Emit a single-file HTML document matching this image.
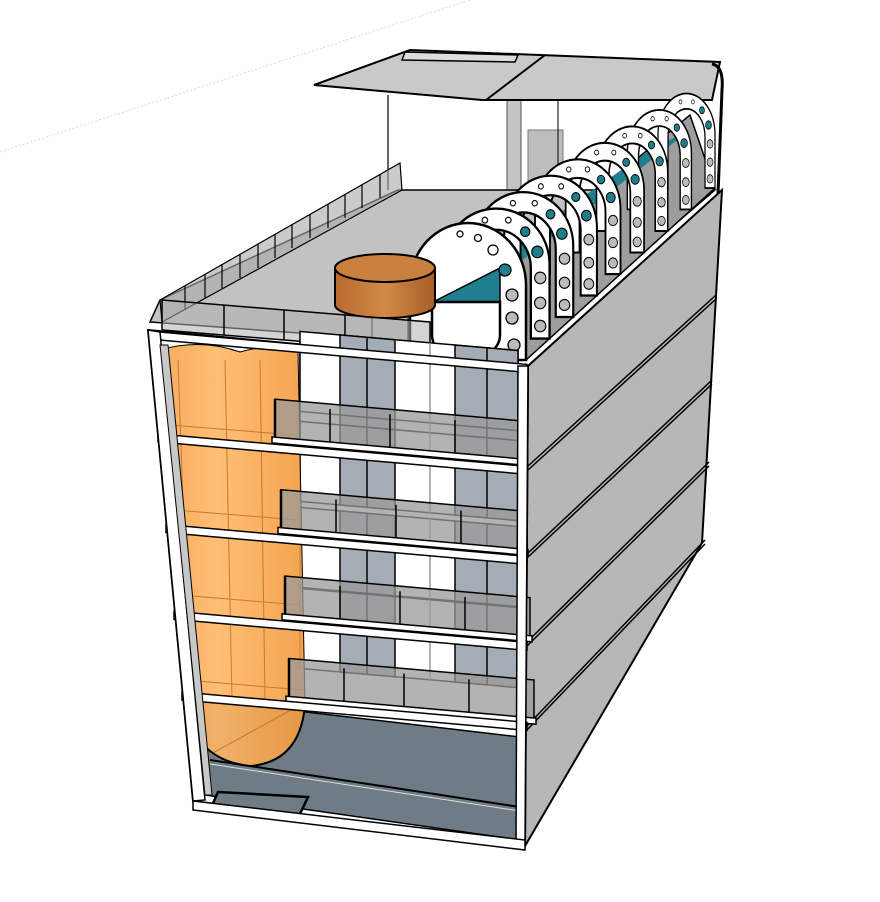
<!DOCTYPE html>
<html><head><meta charset="utf-8"><style>html,body{margin:0;padding:0;background:#fff}svg{display:block}</style></head>
<body>
<svg width="880" height="902" viewBox="0 0 880 902" xmlns="http://www.w3.org/2000/svg">
<defs>
 <linearGradient id="org" x1="0" x2="1" y1="0" y2="0">
  <stop offset="0" stop-color="#f6a24a"/><stop offset="0.4" stop-color="#ffb766"/><stop offset="1" stop-color="#f29a3c"/>
 </linearGradient>
 <linearGradient id="wood" x1="0" x2="1">
  <stop offset="0" stop-color="#b86a2c"/><stop offset="0.5" stop-color="#d08a48"/><stop offset="1" stop-color="#a85e26"/>
 </linearGradient>
 <g id="hoop">
  <path d="M0,135 L0,58 A57,58 0 0 1 114,58 L114,135 L94,135 L94,62 A37,40 0 0 0 20,62 L20,135 Z" fill="#fff" stroke="#000" stroke-width="2.5"/>
  <circle cx="22" cy="30" r="3" fill="#fff" stroke="#000" stroke-width="1.2"/>
  <circle cx="45" cy="12" r="3" fill="#fff" stroke="#000" stroke-width="1.2"/>
  <circle cx="70" cy="12" r="3" fill="#fff" stroke="#000" stroke-width="1.2"/>
  <circle cx="88" cy="24" r="5" fill="#1d7d8a" stroke="#000" stroke-width="1.2"/>
  <circle cx="101" cy="45" r="6" fill="#1d7d8a" stroke="#000" stroke-width="1.2"/>
  <circle cx="104" cy="72" r="6" fill="#bbb" stroke="#000" stroke-width="1.2"/>
  <circle cx="104" cy="98" r="6" fill="#bbb" stroke="#000" stroke-width="1.2"/>
  <circle cx="104" cy="122" r="6" fill="#bbb" stroke="#000" stroke-width="1.2"/>
 </g>
</defs>

<line x1="0" y1="152" x2="470" y2="0" stroke="#cfe0cf" stroke-width="1" stroke-dasharray="2,2"/>

<!-- canopy, back wall -->
<line x1="388" y1="95" x2="388" y2="190" stroke="#000" stroke-width="1.2"/>
<rect x="507" y="100" width="14" height="95" fill="#c4c4c4" stroke="#555" stroke-width="1"/>
<rect x="528" y="130" width="35" height="65" fill="#bdbdbd" stroke="#777" stroke-width="1"/>
<line x1="558" y1="100" x2="558" y2="195" stroke="#000" stroke-width="1"/>
<polygon points="314,85 410,50 720,62 712,100 482,100" fill="#c9c9c9" stroke="#000" stroke-width="2"/>
<line x1="545" y1="55" x2="486" y2="100" stroke="#000" stroke-width="2"/>
<polygon points="405,52 518,55 515,62 402,60" fill="#ddd" stroke="#000" stroke-width="1.5"/>
<path d="M712,64 Q724,66 722,90 L718,195" fill="none" stroke="#000" stroke-width="3"/>

<!-- right face -->
<polygon points="528,366 722,190 702,543 525,846" fill="#b7b7b7" stroke="#000" stroke-width="2"/>
<g stroke="#000" stroke-width="1.5" fill="none">
 <path d="M528,466 L716,295"/><path d="M528,470 L716,299"/>
 <path d="M527,554 L712,380"/><path d="M527,558 L712,384"/>
 <path d="M527,642 L709,462"/><path d="M527,646 L709,466"/>
 <path d="M526,727 L705,540"/><path d="M526,731 L705,544"/>
</g>

<!-- roof deck -->
<polygon points="160,300 398,190 715,190 528,350 150,322" fill="#c2c2c2" stroke="#000" stroke-width="1.5"/>
<polygon points="160,300 400,163 402,190 162,322" fill="#a9a9a9" fill-opacity="0.6" stroke="#000" stroke-width="1.2"/>
<g stroke="#000" stroke-width="1.2">
 <line x1="185" y1="286" x2="185" y2="310"/><line x1="205" y1="274" x2="205" y2="298"/><line x1="222" y1="264" x2="222" y2="288"/>
 <line x1="240" y1="254" x2="240" y2="278"/><line x1="258" y1="244" x2="258" y2="268"/><line x1="275" y1="234" x2="275" y2="258"/>
 <line x1="292" y1="224" x2="292" y2="248"/><line x1="310" y1="214" x2="310" y2="238"/><line x1="328" y1="204" x2="328" y2="228"/>
 <line x1="345" y1="194" x2="345" y2="218"/><line x1="362" y1="184" x2="362" y2="208"/><line x1="380" y1="174" x2="380" y2="198"/>
</g>

<!-- tunnel -->
<polygon points="430,300 520,255 690,115 715,188 526,360 430,360" fill="#9d9d9d" stroke="#000" stroke-width="1.5"/>
<polygon points="435,300 520,262 690,130 650,150" fill="#1f7f8e"/>
<use href="#hoop" transform="translate(658,93.5) scale(0.5,0.7)"/>
<use href="#hoop" transform="translate(627.3,109.9) scale(0.5625,0.7375)"/>
<use href="#hoop" transform="translate(596.5,126.4) scale(0.625,0.775)"/>
<use href="#hoop" transform="translate(565.7,142.8) scale(0.6875,0.8125)"/>
<use href="#hoop" transform="translate(535,159.25) scale(0.75,0.85)"/>
<use href="#hoop" transform="translate(504.3,175.7) scale(0.8125,0.8875)"/>
<use href="#hoop" transform="translate(473.5,192.1) scale(0.875,0.925)"/>
<use href="#hoop" transform="translate(442.7,208.6) scale(0.9375,0.9625)"/>
<!-- front hoop with cap -->
<path d="M410,360 L410,285 A58,62 0 0 1 526,285 L526,360 Z" fill="#fff" stroke="#000" stroke-width="2.5"/>
<polygon points="433,302 500,268 500,302" fill="#1f7f8e" stroke="#000" stroke-width="1.5"/>
<path d="M432,302 L500,302 L500,335 A34,25 0 0 1 432,335 Z" fill="#fff" stroke="#000" stroke-width="2.5"/>
<g fill="#bbb" stroke="#000" stroke-width="1.3">
 <circle cx="512" cy="295" r="6"/><circle cx="512" cy="318" r="6"/><circle cx="514" cy="345" r="6"/>
 <circle cx="505" cy="270" r="6" fill="#1f7f8e"/><circle cx="493" cy="250" r="5" fill="#fff"/><circle cx="478" cy="238" r="3.5" fill="#fff"/>
 <circle cx="460" cy="234" r="3" fill="#fff"/><circle cx="424" cy="350" r="5" fill="#fff"/>
</g>

<!-- wooden cylinder -->
<path d="M335,268 L335,305 A50,13 0 0 0 435,305 L435,268 Z" fill="url(#wood)" stroke="#000" stroke-width="2"/>
<ellipse cx="385" cy="268" rx="50" ry="14" fill="#c9803f" stroke="#000" stroke-width="2"/>
<line x1="372" y1="318" x2="372" y2="340" stroke="#000"/>
<line x1="408" y1="318" x2="408" y2="340" stroke="#000"/>

<!-- front roof glass rail -->
<polygon points="162,300 430,322 430,352 162,330" fill="#b0b0b0" fill-opacity="0.55" stroke="#000" stroke-width="1.5"/>
<g stroke="#000" stroke-width="1.5"><line x1="224" y1="305" x2="224" y2="335"/><line x1="284" y1="310" x2="284" y2="340"/><line x1="345" y1="315" x2="345" y2="345"/></g>

<!-- front face base -->
<polygon points="148,330 528,366 525,846 193,801" fill="#fff" stroke="#000" stroke-width="2"/>

<g transform="matrix(1,0.088,0,1,0,0)" stroke="#000" stroke-width="1.5">
 <g id="fl">
  <rect x="300" y="315" width="218" height="80" fill="#fff"/>
  <rect x="340" y="315" width="55" height="80" fill="#a4adb5"/>
  <rect x="455" y="315" width="63" height="80" fill="#a4adb5"/>
  <line x1="367" y1="315" x2="367" y2="395"/><line x1="430" y1="315" x2="430" y2="395" stroke="#999"/><line x1="487" y1="315" x2="487" y2="395"/>
 </g>
 <use href="#fl" transform="translate(0,-10)"/>
 <use href="#fl" transform="translate(0,80)"/>
 <use href="#fl" transform="translate(0,166)"/>
 <use href="#fl" transform="translate(0,247)"/>
</g>
<polygon points="203,700 520,737 520,840 205,795" fill="#6f7c85" stroke="#000" stroke-width="1.5"/>
<line x1="210" y1="760" x2="520" y2="807" stroke="#000" stroke-width="2"/>
<line x1="210" y1="764" x2="520" y2="811" stroke="#ddd" stroke-width="1"/>
<polygon points="218,792 308,797 298,818 210,810" fill="#6f7c85" stroke="#000" stroke-width="2.5"/>

<path d="M160,350 Q200,338 240,352 Q275,342 298,352 L305,705 Q300,762 250,766 Q195,760 185,705 Z" fill="url(#org)" fill-opacity="0.9" stroke="#000" stroke-width="1"/>
<g stroke="#c97a2a" stroke-width="1" fill="none">
 <line x1="178" y1="360" x2="190" y2="700"/><line x1="225" y1="360" x2="232" y2="700"/><line x1="260" y1="360" x2="265" y2="700"/>
 <path d="M170,425 L295,435"/><path d="M175,510 L298,520"/><path d="M180,595 L300,605"/><path d="M185,680 L303,690"/>
 <line x1="200" y1="760" x2="300" y2="705"/>
</g>
<path d="M185,705 Q195,760 250,766 Q300,762 305,705" fill="none" stroke="#000" stroke-width="2"/>

<g transform="matrix(1,0.088,0,1,0,0)" stroke="#000" stroke-width="1.5">
 <g id="bal">
  <polygon points="275,375 520,375 520,415 275,415" fill="#9a9a9a" fill-opacity="0.75"/>
  <line x1="275" y1="375" x2="275" y2="418" stroke-width="2.5"/>
  <line x1="330" y1="380" x2="330" y2="418"/><line x1="390" y1="380" x2="390" y2="418"/><line x1="455" y1="380" x2="455" y2="418"/>
  <rect x="272" y="413" width="250" height="6" fill="#fff"/>
 </g>
 <use href="#bal" transform="translate(6,90)"/>
 <use href="#bal" transform="translate(10,176)"/>
 <use href="#bal" transform="translate(14,258)"/>
</g>

<g transform="matrix(1,0.088,0,1,0,0)" fill="#fff" stroke="#000" stroke-width="1.5">
 <rect x="149" y="318" width="378" height="8"/>
 <rect x="158" y="420" width="369" height="8"/>
 <rect x="166" y="510" width="361" height="8"/>
 <rect x="174" y="596" width="353" height="8"/>
 <rect x="182" y="676" width="345" height="8"/>
</g>

<polygon points="148,330 160,332 205,800 193,801" fill="#fff" stroke="#000" stroke-width="1.5"/>
<polygon points="160,345 168,345 212,795 205,795" fill="#c8c8c8" stroke="#000" stroke-width="1"/>
<polygon points="518,366 528,366 525,846 516,845" fill="#fff" stroke="#000" stroke-width="1.5"/>
<polygon points="193,801 525,840 525,850 193,810" fill="#fff" stroke="#000" stroke-width="1.5"/>
</svg>
</body></html>
